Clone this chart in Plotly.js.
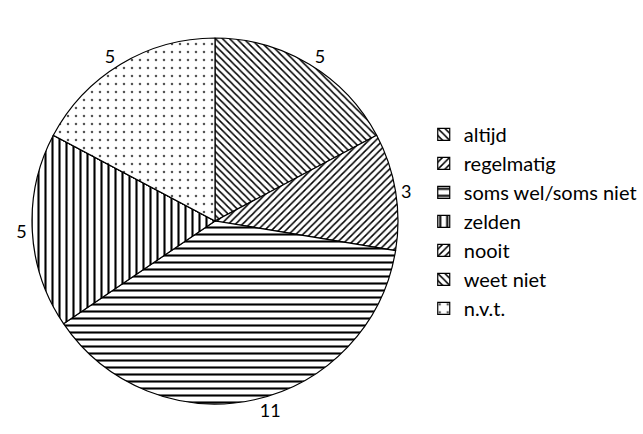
<!DOCTYPE html>
<html>
<head>
<meta charset="utf-8">
<script src="https://cdn.plot.ly/plotly-3.0.1.min.js"></script>
<style>html,body{margin:0;padding:0;background:#fff;}#chart{width:643px;height:434px;}</style>
</head>
<body>
<div id="chart"></div>
<script>
const categories = ["altijd", "regelmatig", "soms wel/soms niet", "zelden", "nooit", "weet niet", "n.v.t."];
const counts = [5, 3, 11, 5, 0, 0, 5];
const patterns = ["\\", "/", "-", "|", "/", "\\", "."];
const patternSizes = [5, 5, 7, 7, 5, 5, 8];
const patternSolidity = [0.3, 0.3, 0.3, 0.3, 0.3, 0.3, 0.08];
const patternColors = ["#000", "#000", "#000", "#000", "#000", "#000", "#555"];

const trace = {
  type: "pie",
  labels: categories,
  values: counts,
  text: counts.map(v => v > 0 ? String(v) : ""),
  sort: false,
  direction: "clockwise",
  rotation: 0,
  textinfo: "text",
  textposition: "outside",
  outsidetextfont: {family: "Lato, 'Open Sans', sans-serif", size: 18, color: "#000"},
  marker: {
    colors: categories.map(() => "#ffffff"),
    line: {color: "#000", width: 1.2},
    pattern: {shape: patterns, fgcolor: patternColors, bgcolor: "#fff", size: patternSizes, solidity: patternSolidity}
  },
  domain: {x: [27/643, 403/643], y: [30/434, 396/434]},
  hoverinfo: "label+value"
};

const layout = {
  width: 643, height: 434,
  margin: {l: 0, r: 0, t: 0, b: 0},
  paper_bgcolor: "#fff",
  showlegend: true,
  legend: {
    x: 0.659, y: 0.49, xanchor: "left", yanchor: "middle",
    bgcolor: "rgba(0,0,0,0)",
    font: {family: "Lato, 'Open Sans', sans-serif", size: 20, color: "#000"},
    itemwidth: 30
  },
  font: {family: "Lato, 'Open Sans', sans-serif", color: "#000"}
};

Plotly.newPlot("chart", [trace], layout, {displayModeBar: false, staticPlot: true});
</script>
</body>
</html>
